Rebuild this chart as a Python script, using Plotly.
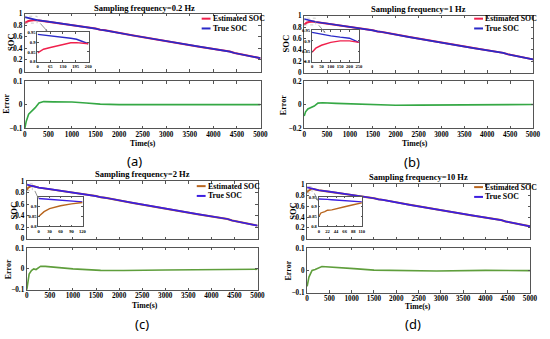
import plotly.graph_objects as go

W, H = 550, 339

# ---------------- data ----------------
soc_time = [0, 260, 500, 900, 1300, 1500, 1600, 1700, 2300, 2900, 3000, 3700, 4350, 4450, 5000]
soc_true = [0.945, 0.892, 0.865, 0.82, 0.77, 0.745, 0.725, 0.715, 0.625, 0.54, 0.52, 0.43, 0.345, 0.32, 0.23]

inset_a_time = [0, 30, 65, 100, 130, 170, 200, 230, 260]
inset_a_true = [0.94, 0.937, 0.933, 0.928, 0.925, 0.92, 0.915, 0.903, 0.892]
inset_a_est = [0.845, 0.864, 0.873, 0.881, 0.887, 0.897, 0.898, 0.896, 0.892]

inset_b_time = [0, 20, 50, 100, 150, 200, 250]
inset_b_true = [0.941, 0.937, 0.932, 0.924, 0.918, 0.913, 0.893]
inset_b_est = [0.845, 0.865, 0.879, 0.893, 0.9, 0.9, 0.893]

inset_c_time = [0, 15, 30, 60, 90, 120]
inset_c_true = [0.942, 0.94, 0.938, 0.934, 0.93, 0.925]
inset_c_est = [0.85, 0.875, 0.89, 0.905, 0.915, 0.922]

inset_d_time = [0, 5, 15, 22, 33, 44, 66, 88, 110]
inset_d_true = [0.94, 0.94, 0.939, 0.938, 0.936, 0.935, 0.932, 0.929, 0.925]
inset_d_est = [0.85, 0.868, 0.875, 0.882, 0.884, 0.89, 0.9, 0.91, 0.92]

err_a_time = [0, 30, 80, 150, 220, 300, 400, 600, 1000, 1300, 1600, 2000, 3000, 4000, 5000]
err_a = [-0.1, -0.07, -0.04, -0.028, -0.012, 0.008, 0.014, 0.013, 0.012, 0.008, 0.003, 0.001, 0.0, 0.002, 0.001]

err_b_time = [0, 30, 80, 150, 220, 300, 400, 700, 1000, 1400, 2000, 2500, 3000, 4000, 5000]
err_b = [-0.095, -0.06, -0.035, -0.02, -0.01, 0.015, 0.018, 0.013, 0.008, 0.002, -0.003, -0.002, 0.0, 0.002, 0.003]

err_c_time = [0, 20, 50, 100, 150, 200, 250, 300, 400, 600, 1000, 1600, 2100, 3000, 4000, 4500, 5000]
err_c = [-0.1, -0.06, -0.025, -0.008, 0.0, -0.003, 0.005, 0.013, 0.012, 0.008, 0.0, -0.007, -0.008, -0.005, -0.002, 0.0, -0.002]

err_d_time = [0, 40, 110, 180, 330, 550, 1050, 1500, 2900, 4000, 5000]
err_d = [-0.072, -0.03, 0.0, 0.004, 0.017, 0.015, 0.008, 0.001, -0.003, 0.0, -0.001]

titles = ["Sampling frequency=0.2 Hz", "Sampling frequency=1 Hz",
          "Sampling frequency=2 Hz", "Sampling frequency=10 Hz"]
panel_labels = ["(a)", "(b)", "(c)", "(d)"]
time_ticks = [0, 500, 1000, 1500, 2000, 2500, 3000, 3500, 4000, 4500, 5000]
soc_ticks = [0, 0.2, 0.4, 0.6, 0.8, 1]
inset_xticks = [[0, 65, 130, 195, 260], [0, 50, 100, 150, 200, 250],
                [0, 30, 60, 90, 120], [0, 22, 44, 66, 88, 110]]
inset_yticks = [[0.8, 0.85, 0.9, 0.95], [0.8, 0.85, 0.9, 0.95],
                [0.8, 0.85, 0.9], [0.8, 0.85, 0.9, 0.95]]
err_limits = [0.1, 0.2, 0.1, 0.1]

panels = [
    dict(it=inset_a_time, itrue=inset_a_true, iest=inset_a_est, tail=2, et=err_a_time, ev=err_a),
    dict(it=inset_b_time, itrue=inset_b_true, iest=inset_b_est, tail=2, et=err_b_time, ev=err_b),
    dict(it=inset_c_time, itrue=inset_c_true, iest=inset_c_est, tail=1, et=err_c_time, ev=err_c),
    dict(it=inset_d_time, itrue=inset_d_true, iest=inset_d_est, tail=1, et=err_d_time, ev=err_d),
]

# ---------------- layout geometry (window pixels) ----------------
geo = [
    dict(soc=(23, 263, 11, 70), err=(23, 263, 80, 128), ins=(36, 88, 30, 60),
         title=(145, 5), time=(143, 143), lab=(135, 161), ysoc=(9, 40), yerr=(5, 103),
         leg=(203, 16, 26)),
    dict(soc=(307, 540, 13, 71), err=(307, 540, 80, 128), ins=(315, 363, 28, 60),
         title=(423, 6), time=(420, 143), lab=(417, 162), ysoc=(289, 42), yerr=(287, 104),
         leg=(480, 16, 26)),
    dict(soc=(25, 260, 182, 241), err=(25, 260, 250, 293), ins=(37, 82, 198, 228),
         title=(143, 175), time=(145, 309), lab=(142, 328), ysoc=(12, 212), yerr=(6, 272),
         leg=(198, 187, 197)),
    dict(soc=(310, 537, 185, 241), err=(310, 537, 250, 296), ins=(322, 366, 198, 228),
         title=(423, 178), time=(423, 310), lab=(418, 328), ysoc=(295, 213), yerr=(291, 273),
         leg=(480, 188, 198)),
]

est_colors = ["#f0204c", "#f0204c", "#b8651e", "#b8651e"]
true_colors = ["#2a2ac8", "#2a2ac8", "#3c1ee0", "#3c1ee0"]
err_colors = ["#35a845", "#35a845", "#5f9e3c", "#5f9e3c"]

SERIF = "Liberation Serif"
LINE = "#555555"


def px_x(p):
    return p / W


def px_y(p):
    return 1 - p / H


def xd(a, b):
    return [px_x(a), px_x(b)]


def yd(top, bot):
    return [px_y(bot), px_y(top)]


fig = go.Figure()
layout = dict(width=W, height=H, margin=dict(l=0, r=0, t=0, b=0),
              paper_bgcolor="white", plot_bgcolor="white", showlegend=False)
annotations = []
shapes = []


def axkeys(n):
    s = "" if n == 1 else str(n)
    return "xaxis" + s, "yaxis" + s, "x" + s, "y" + s


def base_axis(dom, rng, tv, size, showlab, anchor):
    return dict(domain=dom, range=rng, tickvals=tv, anchor=anchor, tickangle=0,
                showline=True, mirror="ticks", linecolor=LINE, linewidth=0.8,
                ticks="inside", ticklen=2.5, tickwidth=0.7, tickcolor=LINE,
                showgrid=False, zeroline=False, showticklabels=showlab,
                tickfont=dict(family=SERIF, size=size, color="black", weight="bold"))


def text(x, y, s, size, family=SERIF, angle=0, bold=True, xanchor="center"):
    annotations.append(dict(x=px_x(x), y=px_y(y), xref="paper", yref="paper", text=s,
                            showarrow=False, xanchor=xanchor, yanchor="middle", textangle=angle,
                            borderpad=0,
                            font=dict(family=family, size=size, color="black",
                                      weight="bold" if bold else "normal")))


for i, (p, g) in enumerate(zip(panels, geo)):
    n_soc, n_err, n_ins = 3 * i + 1, 3 * i + 2, 3 * i + 3
    # ---- SOC main axes
    xk, yk, xr, yr = axkeys(n_soc)
    x0, x1, y0, y1 = g["soc"]
    layout[xk] = base_axis(xd(x0, x1), [-5, 5005], time_ticks, 7.2, False, yr)
    layout[yk] = base_axis(yd(y0, y1), [-0.003, 1.003], soc_ticks, 7.2, True, xr)
    est_t = p["it"] + soc_time[p["tail"]:]
    est_v = p["iest"] + soc_true[p["tail"]:]
    fig.add_trace(go.Scatter(x=est_t, y=est_v, mode="lines", xaxis=xr, yaxis=yr,
                             line=dict(color=est_colors[i], width=2), name="Estimated SOC"))
    fig.add_trace(go.Scatter(x=soc_time, y=soc_true, mode="lines", xaxis=xr, yaxis=yr,
                             line=dict(color=true_colors[i], width=1.7), name="True SOC"))
    # zoom marker + connector
    shapes.append(dict(type="rect", xref=xr, yref=yr, x0=0, x1=p["it"][-1], y0=0.84, y1=0.96,
                       line=dict(color="#aaaaaa", width=0.6, dash="dot")))
    annotations.append(dict(xref=xr, yref=yr, axref=xr, ayref=yr,
                            x=p["it"][-1] * 1.6 + 60, y=0.70, ax=p["it"][-1] + 40, ay=0.86,
                            showarrow=True, arrowhead=2, arrowsize=0.5, arrowwidth=0.8,
                            arrowcolor="#777777", text=""))
    # ---- Error axes
    xk, yk, xr2, yr2 = axkeys(n_err)
    x0, x1, y0, y1 = g["err"]
    lim = err_limits[i]
    layout[xk] = base_axis(xd(x0, x1), [-5, 5005], time_ticks, 7.2, True, yr2)
    layout[xk]["ticklabelstandoff"] = -1
    layout[yk] = base_axis(yd(y0, y1), [-lim * 1.01, lim * 1.01], [-lim, 0, lim], 7.2, True, xr2)
    fig.add_trace(go.Scatter(x=p["et"], y=p["ev"], mode="lines", xaxis=xr2, yaxis=yr2,
                             line=dict(color=err_colors[i], width=1.6), name="Error"))
    # ---- Inset axes
    xk, yk, xr3, yr3 = axkeys(n_ins)
    x0, x1, y0, y1 = g["ins"]
    xt = inset_xticks[i]
    layout[xk] = base_axis(xd(x0, x1), [-0.005 * xt[-1], xt[-1] * 1.005], xt, 4.6, True, yr3)
    layout[yk] = base_axis(yd(y0, y1), [0.7995, 0.9505], inset_yticks[i], 4.6, True, xr3)
    layout[xk]["ticklen"] = 1.5
    layout[yk]["ticklen"] = 1.5
    fig.add_trace(go.Scatter(x=p["it"], y=p["itrue"], mode="lines", xaxis=xr3, yaxis=yr3,
                             line=dict(color=true_colors[i], width=1.4), name="True SOC"))
    fig.add_trace(go.Scatter(x=p["it"], y=p["iest"], mode="lines", xaxis=xr3, yaxis=yr3,
                             line=dict(color=est_colors[i], width=1.4), name="Estimated SOC"))
    # ---- texts
    text(*g["title"], titles[i], 8.5)
    text(*g["time"], "Time(s)", 7.8)
    text(*g["lab"], panel_labels[i], 13, family="Noto Sans", bold=False)
    text(*g["ysoc"], "SOC", 8.5, angle=-90)
    text(*g["yerr"], "Error", 8, angle=-90)
    # ---- manual legend
    lx, ly1, ly2 = g["leg"]
    for yy, col, lab in [(ly1, est_colors[i], "Estimated SOC"), (ly2, true_colors[i], "True SOC")]:
        shapes.append(dict(type="line", xref="paper", yref="paper", x0=px_x(lx), x1=px_x(lx + 9),
                           y0=px_y(yy), y1=px_y(yy), line=dict(color=col, width=2)))
        text(lx + 10, yy, lab, 7.8, xanchor="left")

layout["annotations"] = annotations
layout["shapes"] = shapes
fig.update_layout(**layout)
# remove the browser's default 8px page margin so the figure fills the window
fig.write_html("out.html", config={"displayModeBar": False},
               post_script="document.body.style.margin='0px';")
